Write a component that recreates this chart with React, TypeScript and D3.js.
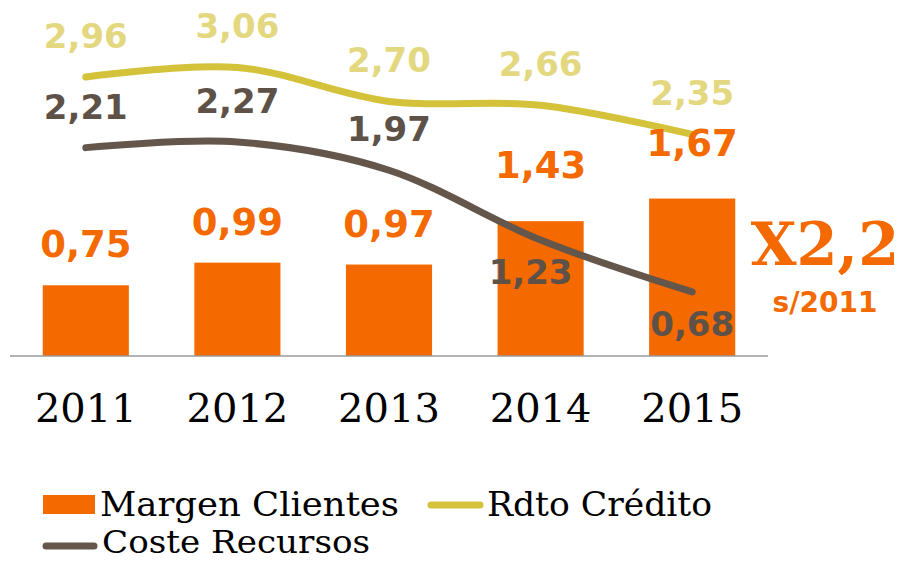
import React from "react";
import * as d3 from "d3";

const years = ["2011", "2012", "2013", "2014", "2015"];
const margenClientes = [0.75, 0.99, 0.97, 1.43, 1.67];
const rdtoCredito = [2.96, 3.06, 2.7, 2.66, 2.35];
const costeRecursos = [2.21, 2.27, 1.97, 1.23, 0.68];
const seriesNames = ["Margen Clientes", "Rdto Crédito", "Coste Recursos"];
const highlight = "X2,2";
const highlightSub = "s/2011";

const W = 901;
const H = 561;
const ORANGE = "#F46900";
const YELLOW = "#D4C23A";
const YELLOW_LABEL = "#E3D87F";
const BROWN = "#64564A";
const BROWN_LABEL = "#5E5147";

const fmt = (v: number) => v.toFixed(2).replace(".", ",");

export default function App() {
  const x = d3
    .scaleBand<string>()
    .domain(years)
    .range([10, 768])
    .paddingInner(0.432)
    .paddingOuter(0.216);
  const y = d3.scaleLinear().domain([0, 3.5]).range([356, 26]);
  const cx = (d: string) => (x(d) as number) + x.bandwidth() / 2;

  const line = d3
    .line<number>()
    .x((_, i) => cx(years[i]))
    .y((v) => y(v))
    .curve(d3.curveCardinal.tension(0));

  const labelFont = "'DejaVu Sans', sans-serif";
  const legendFont = "'DejaVu Serif Condensed', 'DejaVu Serif', serif";

  return (
    <svg
      width={W}
      height={H}
      viewBox={`0 0 ${W} ${H}`}
      style={{ position: "absolute", left: 0, top: 0, background: "#fff" }}
    >
      {/* bars */}
      {years.map((yr, i) => (
        <rect
          key={"b" + yr}
          x={x(yr)}
          y={y(margenClientes[i])}
          width={x.bandwidth()}
          height={y(0) - y(margenClientes[i])}
          fill={ORANGE}
        />
      ))}
      {/* baseline */}
      <line x1={10} x2={768} y1={y(0)} y2={y(0)} stroke="#9a9a9a" strokeWidth={1.5} />

      {/* lines */}
      <path d={line(rdtoCredito) || ""} fill="none" stroke={YELLOW} strokeWidth={7} strokeLinecap="round" />
      <path d={line(costeRecursos) || ""} fill="none" stroke={BROWN} strokeWidth={7} strokeLinecap="round" />

      {/* bar labels: lifted further when the bar is taller */}
      {years.map((yr, i) => (
        <text
          key={"lb" + yr}
          x={cx(yr)}
          y={y(margenClientes[i]) - (margenClientes[i] > 1.2 ? 43 : 28)}
          textAnchor="middle"
          fontFamily={labelFont}
          fontWeight="bold"
          fontSize={37}
          fill={ORANGE}
        >
          {fmt(margenClientes[i])}
        </text>
      ))}
      {/* rdto labels */}
      {years.map((yr, i) => (
        <text
          key={"ly" + yr}
          x={cx(yr)}
          y={y(rdtoCredito[i]) - 29}
          textAnchor="middle"
          fontFamily={labelFont}
          fontWeight="bold"
          fontSize={34}
          fill={YELLOW_LABEL}
        >
          {fmt(rdtoCredito[i])}
        </text>
      ))}
      {/* coste labels */}
      {years.map((yr, i) => {
        const below = costeRecursos[i] < margenClientes[i];
        return (
          <text
            key={"lc" + yr}
            x={cx(yr) + (below && i === 3 ? -10 : 0)}
            y={y(costeRecursos[i]) + (below ? 44 : -29)}
            textAnchor="middle"
            fontFamily={labelFont}
            fontWeight="bold"
            fontSize={34}
            fill={BROWN_LABEL}
          >
            {fmt(costeRecursos[i])}
          </text>
        );
      })}

      {/* year labels */}
      {years.map((yr) => (
        <text
          key={"yr" + yr}
          x={cx(yr)}
          y={422}
          textAnchor="middle"
          fontFamily="'DejaVu Serif', serif"
          fontSize={40}
          fill="#000"
        >
          {yr}
        </text>
      ))}

      {/* highlight */}
      <text x={825} y={265} textAnchor="middle" fontFamily="'DejaVu Serif', serif" fontWeight="bold" fontSize={59} fill={ORANGE}>
        {highlight}
      </text>
      <text x={825} y={312} textAnchor="middle" fontFamily={labelFont} fontWeight="bold" fontSize={28} fill={ORANGE}>
        {highlightSub}
      </text>

      {/* legend */}
      <rect x={43} y={495} width={52} height={19} fill={ORANGE} />
      <text x={100} y={516} fontFamily={legendFont} fontSize={34} textLength={299} lengthAdjust="spacingAndGlyphs" fill="#000">
        {seriesNames[0]}
      </text>
      <line x1={431} x2={480} y1={505} y2={505} stroke={YELLOW} strokeWidth={7} strokeLinecap="round" />
      <text x={487} y={516} fontFamily={legendFont} fontSize={34} textLength={225} lengthAdjust="spacingAndGlyphs" fill="#000">
        {seriesNames[1]}
      </text>
      <line x1={46} x2={94} y1={546} y2={546} stroke={BROWN} strokeWidth={7} strokeLinecap="round" />
      <text x={102} y={553} fontFamily={legendFont} fontSize={32} textLength={268} lengthAdjust="spacingAndGlyphs" fill="#000">
        {seriesNames[2]}
      </text>
    </svg>
  );
}
